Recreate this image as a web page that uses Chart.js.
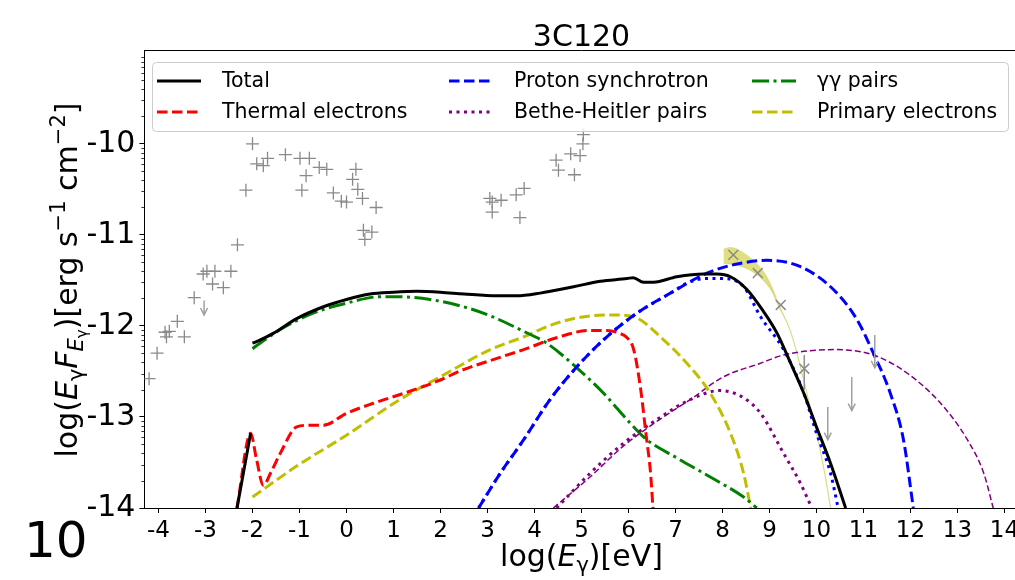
<!DOCTYPE html>
<html>
<head>
<meta charset="utf-8">
<title>3C120</title>
<script src="https://cdn.jsdelivr.net/npm/chart.js@4.4.1/dist/chart.umd.min.js"></script>
<style>
  html, body { margin: 0; padding: 0; background: #fff; overflow: hidden; }
  canvas { display: block; }
</style>
</head>
<body>
<canvas id="sed" width="1030" height="580"></canvas>
<script>
// model curves, log(E) [eV] vs log(E F_E) [erg s^-1 cm^-2]
const totalX = [-2, -1.9, -1.55, -1.06, -0.49, 0, 0.5, 1.0, 1.5, 2.0, 2.5, 3.2, 3.62, 4.12, 4.83, 5.4, 5.97, 6.1, 6.32, 6.53, 7.03, 7.6, 7.88, 8.17, 8.52, 8.87, 9.16, 9.45, 9.73, 10.0, 10.3, 10.62];
const totalY = [-12.19, -12.17, -12.08, -11.92, -11.79, -11.71, -11.65, -11.63, -11.62, -11.63, -11.65, -11.67, -11.67, -11.64, -11.57, -11.51, -11.48, -11.47, -11.52, -11.52, -11.46, -11.43, -11.43, -11.46, -11.6, -11.84, -12.08, -12.41, -12.74, -13.11, -13.51, -14.0];
const totalLowX = [-2.33, -2.04];
const totalLowY = [-14.0, -13.18];

const thermalX = [-2.33, -2.04, -1.92, -1.77, -1.6, -1.41, -1.06, -0.75, -0.49, 0, 0.57, 1.28, 1.92, 2.49, 3.06, 3.77, 4.47, 5.18, 5.54, 5.8, 5.97, 6.11, 6.26, 6.37, 6.47, 6.52];
const thermalY = [-14.0, -13.18, -13.45, -13.75, -13.6, -13.4, -13.11, -13.09, -13.09, -12.96, -12.85, -12.73, -12.61, -12.48, -12.38, -12.26, -12.13, -12.05, -12.05, -12.08, -12.13, -12.26, -12.7, -13.18, -13.62, -14.0];

const protonX = [2.81, 3.27, 3.77, 4.33, 4.9, 5.54, 6.18, 6.96, 7.67, 8.31, 8.95, 9.66, 10.36, 10.86, 11.21, 11.57, 11.85, 12.06];
const protonY = [-14.0, -13.62, -13.25, -12.81, -12.45, -12.12, -11.86, -11.62, -11.42, -11.32, -11.28, -11.35, -11.6, -11.93, -12.3, -12.74, -13.25, -14.0];

const protonAbsX = [2.81, 3.27, 3.77, 4.33, 4.9, 5.54, 6.18, 6.96, 7.24, 7.67, 8.02, 8.45, 8.81, 9.3, 9.73, 10.0, 10.3, 10.46];
const protonAbsY = [-14.0, -13.62, -13.25, -12.81, -12.45, -12.12, -11.86, -11.62, -11.53, -11.48, -11.48, -11.57, -11.9, -12.26, -12.74, -13.18, -13.62, -14.0];

const bhX = [4.47, 5.18, 5.89, 6.6, 7.31, 7.95, 8.45, 8.81, 9.3, 9.66, 9.9];
const bhY = [-14.0, -13.62, -13.29, -13.03, -12.81, -12.71, -12.79, -12.96, -13.4, -13.73, -14.0];

const bhAllX = [4.4, 5.18, 5.89, 6.6, 7.31, 8.02, 8.81, 9.3, 10.36, 11.21, 11.93, 12.64, 13.21, 13.56, 13.76];
const bhAllY = [-14.0, -13.66, -13.32, -13.05, -12.81, -12.56, -12.41, -12.32, -12.26, -12.32, -12.52, -12.85, -13.25, -13.62, -14.0];

const ggX = [-2, -1.41, -0.71, 0, 0.71, 1.07, 1.78, 2.49, 3.06, 3.77, 4.26, 4.9, 5.47, 6.04, 6.39, 7.03, 7.74, 8.45, 8.73];
const ggY = [-12.25, -12.04, -11.86, -11.75, -11.68, -11.68, -11.71, -11.79, -11.89, -12.06, -12.19, -12.46, -12.74, -13.07, -13.25, -13.45, -13.66, -13.88, -14.0];

const primaryX = [-2, -1.06, 0, 1.07, 2.13, 3.06, 3.77, 4.47, 5.18, 5.68, 6.11, 6.74, 7.31, 7.74, 8.17, 8.45, 8.6];
const primaryY = [-13.88, -13.54, -13.2, -12.83, -12.52, -12.26, -12.12, -11.97, -11.89, -11.88, -11.9, -12.15, -12.45, -12.74, -13.18, -13.62, -14.0];

// gamma-ray butterfly
const bandX = [8.02, 8.15, 8.28, 8.56, 8.85, 9.06, 9.16, 9.3, 9.44, 9.66, 9.8, 10.0, 10.15, 10.3];
const bandHi = [-11.16, -11.14, -11.15, -11.24, -11.39, -11.58, -11.72, -11.88, -12.05, -12.45, -12.75, -13.18, -13.55, -14.0];
const bandLo = [-11.31, -11.32, -11.33, -11.38, -11.49, -11.63, -11.75, -11.89, -12.05, -12.45, -12.75, -13.18, -13.55, -14.0];

// observed fluxes
const obsX = [-4.2, -4.03, -3.86, -3.77, -3.83, -3.6, -3.45, -3.24, -3.05, -2.97, -2.8, -2.85, -2.62, -2.46, -2.32, -2.14, -2.0, -1.91, -1.77, -1.68, -1.3, -0.99, -0.79, -0.86, -0.95, -0.58, -0.42, -0.28, -0.11, 0.0, 0.2, 0.13, 0.24, 0.34, 0.63, 0.36, 0.54, 0.39, 3.05, 3.1, 3.29, 3.1, 3.61, 3.78, 3.69, 4.46, 4.51, 4.77, 4.97, 4.85, 5.03, 5.04];
const obsY = [-12.58, -12.3, -12.07, -12.06, -12.12, -11.95, -12.12, -11.69, -11.43, -11.4, -11.4, -11.54, -11.58, -11.4, -11.11, -10.51, -10.0, -10.22, -10.24, -10.16, -10.12, -10.16, -10.16, -10.35, -10.51, -10.26, -10.28, -10.54, -10.63, -10.64, -10.28, -10.39, -10.5, -10.6, -10.7, -10.95, -10.97, -11.05, -10.6, -10.64, -10.62, -10.75, -10.56, -10.49, -10.81, -10.18, -10.29, -10.11, -10.13, -10.34, -10.0, -9.9];

const gevX = [8.23, 8.75, 9.24, 9.74];
const gevY = [-11.22, -11.42, -11.77, -12.47];
const gevErrHi = [0, 0, 0, 0.15];
const gevErrLo = [0, 0, 0, 0.23];

// upper limits (start value and arrow length in dex)
const ulX = [-3.03, 10.24, 10.75, 11.24];
const ulY = [-11.72, -12.89, -12.56, -12.1];
const ulLen = [0.16, 0.36, 0.37, 0.36];

const xTicks = [-4, -3, -2, -1, 0, 1, 2, 3, 4, 5, 6, 7, 8, 9, 10, 11, 12, 13, 14];
const yTicks = [-14, -13, -12, -11, -10];

const FONT = "'DejaVu Sans', 'Liberation Sans', sans-serif";

function pts(xs, ys) {
    return xs.map((x, i) => ({ x: x, y: ys[i] }));
}

function curve(label, xs, ys, color, dash, width) {
    return {
        label: label,
        data: pts(xs, ys),
        showLine: true,
        borderColor: color,
        backgroundColor: color,
        borderWidth: width || 3,
        borderDash: dash || [],
        borderCapStyle: 'butt',
        pointRadius: 0,
        cubicInterpolationMode: 'monotone',
        fill: false
    };
}

const DASH = [10.5, 4.5];
const DOT = [3, 4.5];
const DASHDOT = [17, 4.5, 3, 4.5];

// legend entries drawn inside the axes, 3 columns
const legendItems = [
    { text: 'Total', color: '#000000', dash: [] },
    { text: 'Thermal electrons', color: '#ff0000', dash: DASH },
    { text: 'Proton synchrotron', color: '#0000ff', dash: DASH },
    { text: 'Bethe-Heitler pairs', color: '#800080', dash: DOT },
    { text: 'γγ pairs', color: '#008000', dash: DASHDOT },
    { text: 'Primary electrons', color: '#bfbf00', dash: DASH }
];

// draw a list of text runs (sub/superscripts, italics) starting at x, baseline y
function drawRuns(ctx, runs, x, y, size, align) {
    let total = 0;
    runs.forEach(r => {
        ctx.font = (r.it ? 'italic ' : '') + Math.round(size * (r.s || 1)) + 'px ' + FONT;
        r.w = ctx.measureText(r.t).width;
        total += r.w;
    });
    let cx = align === 'center' ? x - total / 2 : x;
    ctx.textAlign = 'left';
    ctx.textBaseline = 'alphabetic';
    runs.forEach(r => {
        ctx.font = (r.it ? 'italic ' : '') + Math.round(size * (r.s || 1)) + 'px ' + FONT;
        ctx.fillText(r.t, cx, y + (r.dy || 0) * size);
        cx += r.w;
    });
}

const extras = {
    id: 'extras',
    afterDatasetsDraw(chart) {
        const ctx = chart.ctx;
        const xs = chart.scales.x, ys = chart.scales.y;
        const area = chart.chartArea;
        ctx.save();
        ctx.beginPath();
        ctx.rect(area.left, area.top, area.right - area.left, area.bottom - area.top);
        ctx.clip();

        // error bars on the GeV points
        ctx.strokeStyle = '#909090';
        ctx.lineWidth = 1.5;
        for (let i = 0; i < gevX.length; i++) {
            if (!gevErrHi[i] && !gevErrLo[i]) continue;
            const px = xs.getPixelForValue(gevX[i]);
            ctx.beginPath();
            ctx.moveTo(px, ys.getPixelForValue(gevY[i] + gevErrHi[i]));
            ctx.lineTo(px, ys.getPixelForValue(gevY[i] - gevErrLo[i]));
            ctx.stroke();
        }

        // upper limit arrows
        ctx.strokeStyle = '#a0a0a0';
        ctx.lineWidth = 1.5;
        for (let i = 0; i < ulX.length; i++) {
            const px = xs.getPixelForValue(ulX[i]);
            const top = ys.getPixelForValue(ulY[i]);
            const tip = ys.getPixelForValue(ulY[i] - ulLen[i]);
            ctx.beginPath();
            ctx.moveTo(px, top);
            ctx.lineTo(px, tip);
            ctx.moveTo(px - 3.5, tip - 7);
            ctx.lineTo(px, tip);
            ctx.lineTo(px + 3.5, tip - 7);
            ctx.stroke();
        }
        ctx.restore();

        // legend box
        const lx = 152, ly = 62, lw = 856, lh = 69;
        ctx.save();
        ctx.fillStyle = 'rgba(255,255,255,0.85)';
        ctx.strokeStyle = '#cccccc';
        ctx.lineWidth = 1;
        ctx.beginPath();
        ctx.roundRect(lx + 0.5, ly + 0.5, lw, lh, 4);
        ctx.fill();
        ctx.stroke();
        const textX = [222, 514, 817];
        const rowY = [81, 112];
        legendItems.forEach((it, i) => {
            const c = Math.floor(i / 2), r = i % 2;
            const x0 = textX[c] - 65, y0 = rowY[r];
            ctx.strokeStyle = it.color;
            ctx.lineWidth = 3;
            ctx.lineCap = 'butt';
            ctx.setLineDash(it.dash);
            ctx.beginPath();
            ctx.moveTo(x0, y0);
            ctx.lineTo(x0 + 44, y0);
            ctx.stroke();
            ctx.setLineDash([]);
            ctx.fillStyle = '#000';
            ctx.font = '20.5px ' + FONT;
            ctx.textAlign = 'left';
            ctx.textBaseline = 'middle';
            ctx.fillText(it.text, textX[c], y0 + 1);
        });
        ctx.restore();
    },
    afterDraw(chart) {
        const ctx = chart.ctx;
        const ys = chart.scales.y;
        const area = chart.chartArea;
        ctx.save();
        // top and right spines
        ctx.strokeStyle = '#000';
        ctx.lineWidth = 1;
        ctx.beginPath();
        ctx.moveTo(area.left, area.top + 0.5);
        ctx.lineTo(area.right, area.top + 0.5);
        ctx.lineTo(area.right, area.bottom);
        ctx.stroke();

        // minor ticks on the flux axis at n + log10(k)
        ctx.lineWidth = 0.8;
        ctx.beginPath();
        for (let n = -15; n <= -9; n++) {
            for (let k = 2; k <= 9; k++) {
                const v = n + Math.log10(k);
                if (v < ys.min || v > ys.max) continue;
                const py = Math.round(ys.getPixelForValue(v)) + 0.5;
                ctx.moveTo(area.left - 3, py);
                ctx.lineTo(area.left, py);
            }
        }
        ctx.stroke();

        ctx.fillStyle = '#000';
        // title
        ctx.font = '30px ' + FONT;
        ctx.textAlign = 'center';
        ctx.textBaseline = 'alphabetic';
        ctx.fillText('3C120', (area.left + area.right) / 2, 46);

        // x axis title
        drawRuns(ctx, [
            { t: 'log(' },
            { t: 'E', it: true },
            { t: 'γ', s: 0.7, dy: 0.2 },
            { t: ')[eV]' }
        ], (area.left + area.right) / 2, 566, 30, 'center');

        // y axis title, rotated
        ctx.save();
        ctx.translate(77, 280);
        ctx.rotate(-Math.PI / 2);
        drawRuns(ctx, [
            { t: 'log(' },
            { t: 'E', it: true },
            { t: 'γ', s: 0.7, dy: 0.2 },
            { t: 'F', it: true },
            { t: 'E', it: true, s: 0.7, dy: 0.2 },
            { t: 'γ', s: 0.5, dy: 0.32 },
            { t: ')[erg s' },
            { t: '−1', s: 0.7, dy: -0.4 },
            { t: ' cm' },
            { t: '−2', s: 0.7, dy: -0.4 },
            { t: ']' }
        ], 0, 0, 30, 'center');
        ctx.restore();

        // stray exponent label in the lower left corner
        ctx.font = '50px ' + FONT;
        ctx.textAlign = 'left';
        ctx.fillText('10', 24, 557);
        ctx.restore();
    }
};

const datasets = [
    curve('Total', totalX, totalY, '#000000', [], 3),
    curve('', totalLowX, totalLowY, '#000000', [], 3),
    curve('', protonAbsX, protonAbsY, '#0000ff', DOT, 3),
    curve('Thermal electrons', thermalX, thermalY, '#ff0000', DASH, 3),
    curve('Proton synchrotron', protonX, protonY, '#0000ff', DASH, 3),
    curve('Bethe-Heitler pairs', bhX, bhY, '#800080', DOT, 3),
    curve('γγ pairs', ggX, ggY, '#008000', DASHDOT, 3),
    curve('Primary electrons', primaryX, primaryY, '#bfbf00', DASH, 3),
    curve('', bhAllX, bhAllY, '#800080', [6, 3], 1.5),
    {
        label: 'GeV',
        data: pts(gevX, gevY),
        showLine: false,
        pointStyle: 'crossRot',
        pointRadius: 7,
        borderColor: '#8a8a8a',
        borderWidth: 1.5
    },
    {
        label: 'obs',
        data: pts(obsX, obsY),
        showLine: false,
        pointStyle: 'cross',
        pointRadius: 6.5,
        borderColor: '#8a8a8a',
        borderWidth: 1.3
    },
    Object.assign(curve('', bandX, bandHi, 'rgba(210,210,110,0.6)', [], 1), { fill: '+1', backgroundColor: 'rgba(191,191,0,0.5)' }),
    curve('', bandX, bandLo, 'rgba(210,210,110,0.6)', [], 1)
];

const chart = new Chart(document.getElementById('sed'), {
    type: 'scatter',
    data: { datasets: datasets },
    options: {
        responsive: false,
        animation: false,
        devicePixelRatio: 1,
        layout: { padding: { top: 50, right: 11.4, left: 0, bottom: 0 } },
        plugins: {
            legend: { display: false },
            tooltip: { enabled: false },
            title: { display: false }
        },
        scales: {
            x: {
                type: 'linear',
                min: -4.3,
                max: 14.3,
                afterBuildTicks: s => { s.ticks = xTicks.map(v => ({ value: v })); },
                afterFit: s => { s.height = 72; },
                grid: { drawOnChartArea: false, drawTicks: true, tickLength: 5, color: '#000' },
                border: { color: '#000', width: 1 },
                ticks: {
                    color: '#000',
                    font: { family: FONT, size: 23 },
                    padding: 4,
                    maxRotation: 0,
                    autoSkip: false,
                    callback: v => String(v)
                }
            },
            y: {
                type: 'linear',
                min: -14,
                max: -8.97,
                afterBuildTicks: s => { s.ticks = yTicks.map(v => ({ value: v })); },
                afterFit: s => { s.width = 144.4; },
                grid: { drawOnChartArea: false, drawTicks: true, tickLength: 5, color: '#000' },
                border: { color: '#000', width: 1 },
                ticks: {
                    color: '#000',
                    font: { family: FONT, size: 30 },
                    padding: 4,
                    callback: v => String(v)
                }
            }
        }
    },
    plugins: [extras]
});
</script>
</body>
</html>
